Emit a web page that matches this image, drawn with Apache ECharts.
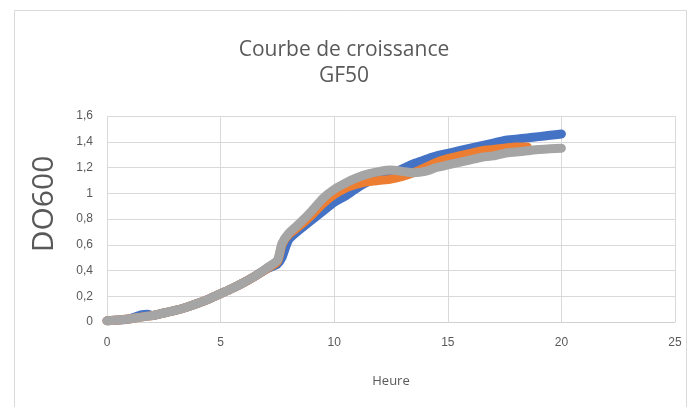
<!DOCTYPE html>
<html>
<head>
<meta charset="utf-8">
<script src="https://cdn.jsdelivr.net/npm/echarts@6/dist/echarts.min.js"></script>
<style>
html,body{margin:0;padding:0;background:#fff;}
#chart{width:688px;height:407px;}
</style>
</head>
<body>
<div id="chart"></div>
<script>
const hours = [0,0.5,1,1.5,1.8,2,2.5,3,3.5,4,4.5,5,5.5,6,6.5,7,7.5,7.7,8,8.5,9,9.5,10,10.5,11,11.5,12,12.5,13,13.5,14,14.5,15,15.5,16,16.5,17,17.5,18,18.5,19,19.5,20];
const serie1 = [0.01,0.015,0.025,0.055,0.06,0.05,0.07,0.09,0.115,0.145,0.18,0.22,0.26,0.305,0.355,0.41,0.45,0.5,0.64,0.72,0.79,0.86,0.93,0.98,1.04,1.09,1.12,1.15,1.19,1.23,1.26,1.29,1.31,1.33,1.35,1.37,1.39,1.41,1.42,1.43,1.44,1.45,1.46];
const serie2 = [0.01,0.015,0.025,0.038,0.045,0.05,0.07,0.09,0.115,0.145,0.18,0.22,0.26,0.305,0.355,0.41,0.47,0.6,0.68,0.75,0.83,0.92,0.99,1.04,1.07,1.09,1.1,1.11,1.13,1.16,1.2,1.24,1.27,1.29,1.31,1.33,1.34,1.35,1.36,1.36];
const serie3 = [0.01,0.015,0.025,0.038,0.045,0.05,0.07,0.09,0.115,0.145,0.18,0.22,0.26,0.305,0.355,0.415,0.48,0.61,0.69,0.77,0.86,0.96,1.03,1.08,1.12,1.15,1.17,1.18,1.17,1.16,1.17,1.2,1.22,1.24,1.26,1.28,1.29,1.31,1.32,1.33,1.34,1.345,1.35];
const xTicks = [0,5,10,15,20,25];
const yTicks = [0,0.2,0.4,0.6,0.8,1,1.2,1.4,1.6];

const chart = echarts.init(document.getElementById('chart'));
const pairs = arr => arr.map((v,i)=>[hours[i], v]);
const font = 'Liberation Sans, Arial, sans-serif';
const tfont = 'Open Sans, sans-serif';
function mk(name, data, color){
  return {name, type:'line', data:pairs(data), showSymbol:false, smooth:0.2,
    lineStyle:{color, width:9, cap:'round', join:'round'}, itemStyle:{color}};
}
chart.setOption({
  animation:false,
  textStyle:{fontFamily:font},
  graphic:[{type:'rect', shape:{x:14.5,y:10.5,width:672,height:420}, style:{fill:'none', stroke:'#d9d9d9', lineWidth:1}}],
  title:{text:'Courbe de croissance\nGF50', left:'center', top:32,
    textStyle:{fontFamily:tfont, fontSize:21, fontWeight:'normal', color:'#595959', lineHeight:26}},
  grid:{left:107, right:13, top:116, bottom:85},
  xAxis:{type:'value', min:0, max:25, interval:5, name:'Heure', nameLocation:'middle', nameGap:53,
    nameTextStyle:{color:'#595959', fontSize:13, fontFamily:tfont},
    axisLine:{show:true, lineStyle:{color:'#d0d0d0'}}, axisTick:{show:false},
    axisLabel:{color:'#595959', fontSize:12, margin:15, fontFamily:font},
    splitLine:{show:true, lineStyle:{color:'#d9d9d9'}}},
  yAxis:{type:'value', min:0, max:1.6, interval:0.2, name:'DO600', nameLocation:'middle', nameGap:48,
    nameTextStyle:{color:'#595959', fontSize:30, fontFamily:tfont, padding:[0,0,0,30]},
    axisLine:{show:false}, axisTick:{show:false},
    axisLabel:{color:'#595959', fontSize:12, margin:14, fontFamily:font,
      formatter: v => String(Math.round(v*10)/10).replace('.', ',')},
    splitLine:{show:true, lineStyle:{color:'#d9d9d9'}}},
  series:[mk('S1', serie1, '#4472C4'), mk('S2', serie2, '#ED7D31'), mk('S3', serie3, '#A5A5A5')]
});
</script>
</body>
</html>
